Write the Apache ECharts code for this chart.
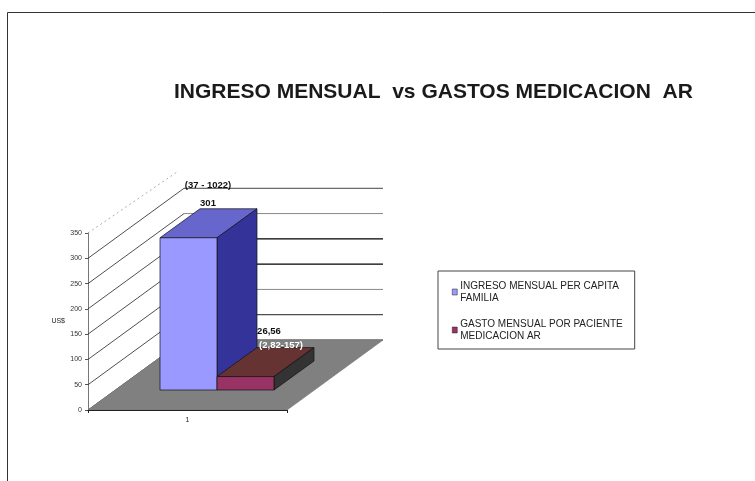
<!DOCTYPE html>
<html><head><meta charset="utf-8">
<style>html,body{margin:0;padding:0;background:#fff}#c{width:755px;height:481px}</style>
<script src="https://cdn.jsdelivr.net/npm/echarts@6/dist/echarts.min.js"></script>
</head><body><div id="c"></div>
<script>
const categories = ['1'];
const yTicks = [0, 50, 100, 150, 200, 250, 300];
const seriesNames = ['INGRESO MENSUAL PER CAPITA\nFAMILIA', 'GASTO MENSUAL POR PACIENTE\nMEDICACION AR'];
const ingreso = [301];
const gasto = [26.56];
const valueLabels = ['301', '26,56'];
const rangeLabels = ['(37 - 1022)', '(2,82-157)'];

const DX = 96, DY = -70;          // depth of the 3D floor
const BDX = 40, BDY = -29;        // depth of a bar
const SHIFT = 27, SHIFTY = -20;   // bar set-back from the floor front
const BAR_W = 57;
const gridColor = {0:'#333',50:'#222',100:'#888',150:'#000',200:'#000',250:'#888',300:'#444'};

const chart = echarts.init(document.getElementById('c'), null, {renderer:'canvas'});

function line(x1,y1,x2,y2,stroke,lw,dash){
  return {type:'line',shape:{x1,y1,x2,y2},style:{stroke,lineWidth:lw||1,lineDash:dash||null}};
}
function poly(points,fill,stroke){
  return {type:'polygon',shape:{points},style:{fill,stroke:stroke||'#111',lineWidth:0.7}};
}
function renderWall(params,api){
  const v = api.value(1);
  const p = api.coord([0,v]);
  const left = p[0]-api.size([1,0])[0]/2;
  const col = gridColor[v];
  const lw = (v===150||v===200)?1.4:1;
  const children = [line(left,p[1],left+DX,p[1]+DY,'#222',0.8)];
  children.push(line(left+DX,p[1]+DY,left+DX+199,p[1]+DY,col,lw));
  return {type:'group',children};
}
function renderTop(params,api){
  const p = api.coord([0,api.value(1)]);
  const left = p[0]-api.size([1,0])[0]/2;
  return line(left,p[1],left+DX-7,p[1]+DY+9,'#999',0.8,[2,3]);
}
function renderFloor(params,api){
  const p = api.coord([0,0]);
  const w = api.size([1,0])[0];
  const l = p[0]-w/2, y = p[1];
  return poly([[l,y],[l+w,y],[l+w+DX,y+DY],[l+DX,y+DY]],'#808080','#777');
}
function renderBar(idx,colors,off){
  return function(params,api){
    const base = api.coord([0,0]);
    const top = api.coord([0,api.value(1)]);
    const w = api.size([1,0])[0];
    const x = base[0]-w/2+45+SHIFT+idx*BAR_W;
    const y0 = base[1]+SHIFTY, y1 = top[1]+SHIFTY;
    const x1 = x+BAR_W;
    const txt = (t,tx,ty,fill)=>({type:'text',style:{text:t,x:tx,y:ty,fill,align:'center',verticalAlign:'middle',
      font:'bold 9.5px "Liberation Sans"'}});
    return {type:'group',children:[
      poly([[x,y1],[x1,y1],[x1+BDX,y1+BDY],[x+BDX,y1+BDY]],colors[1]),
      poly([[x1,y0],[x1+BDX,y0+BDY],[x1+BDX,y1+BDY],[x1,y1]],colors[2]),
      poly([[x,y0],[x1,y0],[x1,y1],[x,y1]],colors[0]),
      txt(valueLabels[idx],x+off[0],y1+off[1],'#111'),
      txt(rangeLabels[idx],x+off[2],y1+off[3],off[4])
    ]};
  };
}

const wallData = yTicks.map(v=>[0,v]);
chart.setOption({
  animation:false,
  backgroundColor:'#fff',
  title:{
    text:'INGRESO MENSUAL  vs GASTOS MEDICACION  AR',
    left:169, top:77,
    textStyle:{fontFamily:'Liberation Sans',fontWeight:'bold',fontSize:21,color:'#1a1a1a'}
  },
  grid:{left:88,right:468,top:233,bottom:71,containLabel:false},
  xAxis:{type:'category',data:categories,z:5,
    axisLine:{lineStyle:{color:'#222',width:1}},
    axisTick:{show:true,alignWithLabel:false,length:3,lineStyle:{color:'#222'}},
    axisLabel:{fontFamily:'Liberation Sans',fontSize:7,color:'#222',margin:7}},
  yAxis:{type:'value',min:0,max:350,interval:50,name:'US$',nameLocation:'middle',nameRotate:0,nameGap:23,
    nameTextStyle:{fontFamily:'Liberation Sans',fontSize:7,color:'#222'},
    axisLine:{show:true,lineStyle:{color:'#777',width:1}},
    axisTick:{show:true,length:3,lineStyle:{color:'#555'}},
    splitLine:{show:false},
    axisLabel:{fontFamily:'Liberation Sans',fontSize:7,color:'#333',margin:6}},
  legend:{
    data:seriesNames, orient:'vertical', left:438, top:271, width:197,
    backgroundColor:'#fff', borderColor:'#444', borderWidth:1,
    padding:[9,12,7,14], itemWidth:5, itemHeight:6, itemGap:14, icon:'rect', selectedMode:false,
    itemStyle:{borderWidth:0.5},
    textStyle:{fontFamily:'Liberation Sans',fontSize:10,color:'#222',padding:[0,0,0,-2],lineHeight:12}
  },
  graphic:[
    {type:'line',shape:{x1:7.5,y1:12.5,x2:755,y2:12.5},style:{stroke:'#333',lineWidth:1},silent:true},
    {type:'line',shape:{x1:7.5,y1:12.5,x2:7.5,y2:481},style:{stroke:'#333',lineWidth:1},silent:true}
  ],
  series:[
    {name:'walls',type:'custom',data:wallData,encode:{x:0,y:1},renderItem:renderWall,z:1,silent:true},
    {name:'top',type:'custom',data:[[0,350]],encode:{x:0,y:1},renderItem:renderTop,z:1,silent:true},
    {name:'floor',type:'custom',data:[[0,0]],encode:{x:0,y:1},renderItem:renderFloor,z:2,silent:true},
    {name:seriesNames[0],type:'custom',itemStyle:{color:'#9999FF',borderColor:'#222',borderWidth:1},
      data:ingreso.map((v,i)=>[i,v]),encode:{x:0,y:1},z:3,
      renderItem:renderBar(0,['#9999FF','#6666CC','#333399'],[48,-34,48,-52,'#111'])},
    {name:seriesNames[1],type:'custom',itemStyle:{color:'#993366',borderColor:'#222',borderWidth:1},
      data:gasto.map((v,i)=>[i,v]),encode:{x:0,y:1},z:3,
      renderItem:renderBar(1,['#993366','#663333','#333333'],[52,-45,64,-31,'#fff'])}
  ]
});
</script></body></html>
